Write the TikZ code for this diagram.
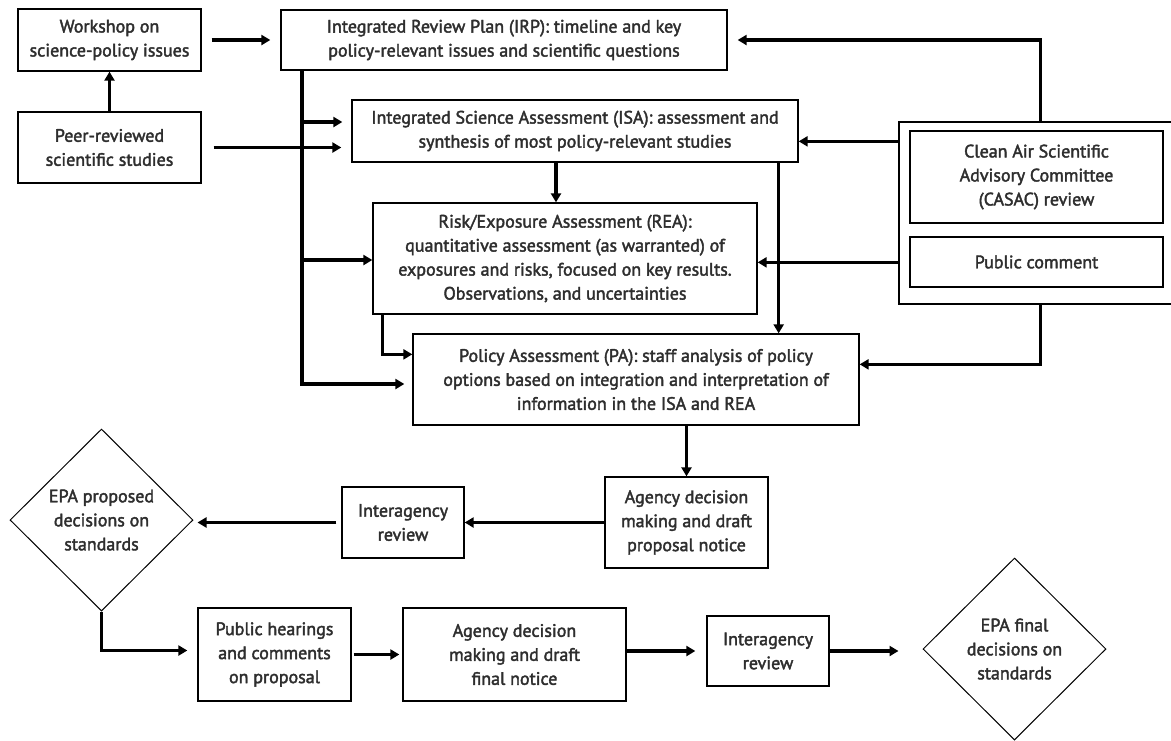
\documentclass[tikz,border=0pt]{standalone}
\usepackage{fontspec}
\setmainfont{PT Sans}
\newfontfamily\boxfont{PT Sans}[FakeBold=2.2]
\usetikzlibrary{positioning, arrows.meta, shapes.geometric}
\tikzset{
		flow box/.style={
			rectangle,
			draw=black,
			line width=1.3pt,
			align=center,
			inner sep=0pt,
			text=black!82,
			font=\boxfont\fontsize{18}{24}\selectfont
		},
		decision/.style={
			diamond,
			draw=black,
			line width=1pt,
			align=center,
			inner sep=0pt,
			minimum width=183pt,
			minimum height=182pt,
			text=black!82,
			font=\boxfont\fontsize{18}{24}\selectfont
		},
		flow arrow/.style={
			line width=3.4pt,
			-{Triangle[length=9pt,width=10pt]}
		}
	}
\begin{document}
\begin{tikzpicture}[x=1pt, y=-1pt]
	\useasboundingbox (0,0) rectangle (1171,740);
	% review and assessment stage
	\node [flow box, minimum width=183pt, minimum height=62pt] (workshop) at (109.5,40) {Workshop on\\science-policy issues};
	\node [flow box, minimum width=183pt, minimum height=71pt] (peer) at (109.5,147.5) {Peer-reviewed\\scientific studies};
	\node [flow box, minimum width=446pt, minimum height=60pt] (irp) at (504,40) {Integrated Review Plan (IRP): timeline and key\\policy-relevant issues and scientific questions};
	\node [flow box, minimum width=446pt, minimum height=62pt] (isa) at (575,131) {Integrated Science Assessment (ISA): assessment and\\synthesis of most policy-relevant studies};
	\node [flow box, minimum width=384pt, minimum height=111pt] (rea) at (565,258.5) {Risk/Exposure Assessment (REA):\\quantitative assessment (as warranted) of\\exposures and risks, focused on key results.\\Observations, and uncertainties};
	\node [flow box, minimum width=446pt, minimum height=91pt] (pa) at (636,379.5) {Policy Assessment (PA): staff analysis of policy\\options based on integration and interpretation of\\information in the ISA and REA};
	\node [flow box, minimum width=290pt, minimum height=182pt] (panel) at (1044,213) {};
	\node [flow box, minimum width=253pt, minimum height=92pt] (casac) at (1036.5,177) {Clean Air Scientific\\Advisory Committee\\(CASAC) review};
	\node [flow box, minimum width=253pt, minimum height=50pt] (pubcomment) at (1036.5,262) {Public comment};
	% rulemaking stage
	\node [flow box, minimum width=163pt, minimum height=91pt] (agprop) at (686.5,522.5) {Agency decision\\making and draft\\proposal notice};
	\node [flow box, minimum width=122pt, minimum height=71pt] (inter1) at (403,522.5) {Interagency\\review};
	\node [decision] (epaprop) at (101.5,520) {EPA proposed\\decisions on\\standards};
	\node [flow box, minimum width=153pt, minimum height=93pt] (hearings) at (274.5,654.5) {Public hearings\\and comments\\on proposal};
	\node [flow box, minimum width=223pt, minimum height=93pt] (agfinal) at (514.5,654.5) {Agency decision\\making and draft\\final notice};
	\node [flow box, minimum width=122pt, minimum height=70pt] (inter2) at (768,651) {Interagency\\review};
	\node [decision] (epafinal) at (1014.5,649) {EPA final\\decisions on\\standards};

	\coordinate (irpdrop) at (302,70);
	\coordinate (irpfoot) at (302,384);
	\coordinate (isafork) at (302,122);
	\coordinate (reafork) at (302,260);

	\draw [flow arrow, shorten <=10pt, shorten >=10pt] (workshop.east) -- (irp.west);
	\draw [flow arrow] (peer.north) -- (workshop.south);
	\draw [flow arrow, shorten <=12pt, shorten >=10pt] (peer.east) -- (peer.east -| isa.west);
	\draw [flow arrow, shorten >=8pt] (irpdrop) -- (irpfoot) -- (irpfoot -| pa.west);
	\draw [flow arrow, shorten >=9pt] (isafork) -- (isafork -| isa.west);
	\draw [flow arrow] (reafork) -- (reafork -| rea.west);
	\draw [flow arrow] ([xshift=-19pt]isa.south) -- ([xshift=-19pt]isa.south |- rea.north);
	\draw [flow arrow] ([xshift=-20pt]isa.south east) -- ([xshift=-20pt]isa.south east |- pa.north);
	\draw [flow arrow] ([xshift=10pt]rea.south west) |- ([yshift=-21pt]pa.north west);
	\draw [flow arrow, shorten >=10pt] ([xshift=142pt]panel.north west) |- (irp.east);
	\draw [flow arrow] ([yshift=-20pt]panel.north west) -- ([yshift=-20pt]panel.north west -| isa.east);
	\draw [flow arrow] ([yshift=-141pt]panel.north west) -- ([yshift=-141pt]panel.north west -| rea.east);
	\draw [flow arrow] ([xshift=142pt]panel.south west) |- ([yshift=-31pt]pa.north east);
	\draw [flow arrow] (agprop.north |- pa.south) -- (agprop.north);
	\draw [flow arrow] (agprop.west) -- (inter1.east);
	\draw [flow arrow, shorten <=5pt, shorten >=4pt] (inter1.west) -- (inter1.west -| epaprop.east);
	\draw [flow arrow, shorten >=10pt] (epaprop.south) |- ([yshift=4pt]hearings.west);
	\draw [flow arrow, shorten <=2pt, shorten >=3pt] (hearings.east) -- (agfinal.west);
	\draw [flow arrow, shorten >=11pt] (agfinal.east |- inter2.west) -- (inter2.west);
	\draw [flow arrow, shorten >=24pt] (inter2.east) -- (inter2.east -| epafinal.west);
\end{tikzpicture}
\end{document}
